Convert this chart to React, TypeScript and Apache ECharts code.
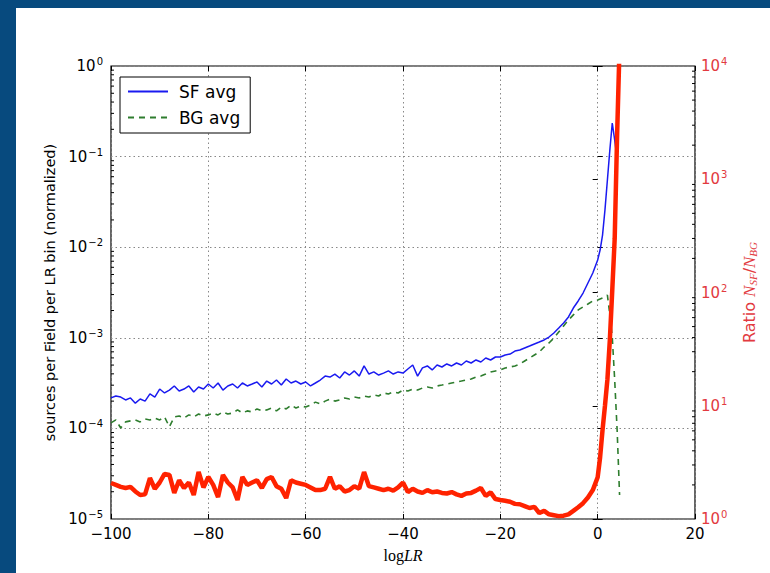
import React, { useEffect, useRef } from "react";
import * as echarts from "echarts";

// bin centres (log LR)
const logLR = [
  -100, -99, -98, -97, -96, -95, -94, -93, -92, -91,
  -90, -89, -88, -87, -86, -85, -84, -83, -82, -81,
  -80, -79, -78, -77, -76, -75, -74, -73, -72, -71,
  -70, -69, -68, -67, -66, -65, -64, -63, -62, -61,
  -60, -59, -58, -57, -56, -55, -54, -53, -52, -51,
  -50, -49, -48, -47, -46, -45, -44, -43, -42, -41,
  -40, -39, -38, -37, -36, -35, -34, -33, -32, -31,
  -30, -29, -28, -27, -26, -25, -24, -23, -22, -21,
  -20, -19, -18, -17, -16, -15, -14, -13, -12, -11,
  -10, -9, -8, -7, -6, -5, -4, -3, -2, -1,
  0, 0.5, 1, 1.5, 2, 2.5, 3, 3.5, 4, 4.5, 5,
];

const sfAvg = [
  2.17e-4, 2.28e-4, 2.22e-4, 2.06e-4, 2.17e-4, 1.9e-4, 2.11e-4, 2.0e-4, 2.4e-4, 2.22e-4,
  2.72e-4, 2.46e-4, 2.65e-4, 2.94e-4, 2.59e-4, 2.72e-4, 2.94e-4, 2.52e-4, 2.86e-4, 2.72e-4,
  3.09e-4, 2.79e-4, 3.17e-4, 2.65e-4, 2.94e-4, 3.09e-4, 2.79e-4, 3.17e-4, 2.94e-4, 3.09e-4,
  3.25e-4, 2.86e-4, 3.33e-4, 3.09e-4, 3.42e-4, 3.01e-4, 3.51e-4, 3.17e-4, 3.33e-4, 3.09e-4,
  3.25e-4, 2.94e-4, 3.17e-4, 3.42e-4, 3.78e-4, 3.69e-4, 3.98e-4, 3.6e-4, 4.2e-4, 3.88e-4,
  4.31e-4, 3.78e-4, 4.89e-4, 3.98e-4, 4.2e-4, 3.88e-4, 4.08e-4, 4.31e-4, 3.98e-4, 4.2e-4,
  4.08e-4, 4.53e-4, 5.01e-4, 3.78e-4, 4.65e-4, 4.89e-4, 4.42e-4, 5.01e-4, 4.76e-4, 5.14e-4,
  4.89e-4, 5.27e-4, 5.01e-4, 5.55e-4, 5.27e-4, 5.69e-4, 5.41e-4, 5.98e-4, 5.69e-4, 6.14e-4,
  6.14e-4, 6.46e-4, 6.62e-4, 7.14e-4, 7.33e-4, 7.71e-4, 8.11e-4, 8.55e-4, 8.99e-4, 9.46e-4,
  1.02e-3, 1.13e-3, 1.28e-3, 1.46e-3, 1.7e-3, 2.13e-3, 2.55e-3, 3.12e-3, 4.03e-3, 5.19e-3,
  7.22e-3, 9.31e-3, 1.36e-2, 2.58e-2, 5.52e-2, 1.18e-1, 2.35e-1, 1.52e-1, 9.17e-2, null, null,
];

const bgAvg = [
  1.15e-4, 1.24e-4, 1.01e-4, 1.18e-4, 1.21e-4, 1.24e-4, 1.18e-4, 1.27e-4, 1.24e-4, 1.3e-4,
  1.24e-4, 1.34e-4, 1.04e-4, 1.34e-4, 1.37e-4, 1.3e-4, 1.41e-4, 1.34e-4, 1.44e-4, 1.37e-4,
  1.41e-4, 1.48e-4, 1.41e-4, 1.52e-4, 1.44e-4, 1.48e-4, 1.6e-4, 1.48e-4, 1.56e-4, 1.52e-4,
  1.64e-4, 1.56e-4, 1.6e-4, 1.68e-4, 1.56e-4, 1.72e-4, 1.64e-4, 1.81e-4, 1.68e-4, 1.77e-4,
  1.72e-4, 1.81e-4, 1.95e-4, 1.86e-4, 2.0e-4, 2.11e-4, 2.0e-4, 2.06e-4, 2.17e-4, 2.11e-4,
  2.22e-4, 2.17e-4, 2.28e-4, 2.22e-4, 2.34e-4, 2.28e-4, 2.46e-4, 2.4e-4, 2.52e-4, 2.46e-4,
  2.65e-4, 2.59e-4, 2.72e-4, 2.65e-4, 2.79e-4, 2.86e-4, 2.79e-4, 2.94e-4, 3.01e-4, 3.09e-4,
  3.17e-4, 3.25e-4, 3.33e-4, 3.42e-4, 3.51e-4, 3.69e-4, 3.78e-4, 3.98e-4, 4.2e-4, 4.31e-4,
  4.42e-4, 4.65e-4, 4.76e-4, 4.89e-4, 5.14e-4, 5.55e-4, 5.98e-4, 6.46e-4, 6.97e-4, 7.91e-4,
  8.77e-4, 9.95e-4, 1.16e-3, 1.35e-3, 1.57e-3, 1.79e-3, 2.03e-3, 2.19e-3, 2.36e-3, 2.55e-3,
  2.61e-3, 2.68e-3, 2.75e-3, 2.85e-3, 2.96e-3, 1.8e-3, 1.02e-3, 3.42e-4, 9.6e-5, 1.84e-5, null,
];

const ratio = [
  2.08, 2.0, 1.92, 1.88, 1.92, 1.75, 1.63, 1.65, 2.3, 1.85,
  2.1, 2.5, 2.45, 1.7, 2.2, 1.88, 2.1, 1.63, 2.6, 1.9,
  2.35, 2.0, 1.56, 2.45, 2.1, 1.9, 1.47, 2.35, 2.0, 2.1,
  2.2, 1.88, 2.25, 2.35, 1.95, 1.85, 1.53, 2.2, 2.1, 2.05,
  2.0, 1.9, 1.8, 1.8, 1.85, 2.35, 1.85, 1.95, 1.75, 1.8,
  1.95, 1.85, 2.6, 1.95, 1.9, 1.85, 1.8, 1.85, 1.78, 1.9,
  2.1, 1.73, 1.85, 1.75, 1.7, 1.8, 1.72, 1.75, 1.7, 1.68,
  1.73, 1.65, 1.6, 1.68, 1.7, 1.78, 1.88, 1.6, 1.72, 1.5,
  1.47, 1.45, 1.42, 1.36, 1.35, 1.3, 1.25, 1.28, 1.13, 1.18,
  1.1, 1.08, 1.06, 1.07, 1.1, 1.18, 1.27, 1.38, 1.55, 1.8,
  2.34, 3.5, 6.1, 10, 17, 38, 105, 300, 2500, 15000, 30000,
];

const xTicks = [-100, -80, -60, -40, -20, 0, 20];
const minorMultipliers = [2, 3, 4, 5, 6, 7, 8, 9];
const leftDecades = [1e-5, 1e-4, 1e-3, 1e-2, 1e-1];
const rightDecades = [1, 10, 100, 1000];

const FONT = "DejaVu Sans";
const RED_TEXT = "#e23a40";

function pow10Label(v: number) {
  const e = Math.round(Math.log10(v));
  const s = e < 0 ? "\u2212" + -e : String(e);
  return "{b|10}{s|" + s + "}";
}

function fmtX(v: number) {
  return v < 0 ? "\u2212" + Math.abs(v) : String(v);
}

const richLabel = (color: string) => ({
  b: { fontFamily: FONT, fontSize: 15, color },
  s: { fontFamily: FONT, fontSize: 10, color, padding: [0, 0, 9, 1] },
});

export default function App() {
  const ref = useRef<HTMLDivElement>(null);

  useEffect(() => {
    if (!ref.current) return;
    const chart = echarts.init(ref.current, null, { renderer: "svg" });

    const pair = (arr: (number | null)[]) =>
      logLR.map((x, i) => [x, arr[i]]).filter((d) => d[1] !== null);

    const leftMinor: number[][] = [];
    leftDecades.forEach((d) => minorMultipliers.forEach((m) => leftMinor.push([-100, d * m])));
    const rightMinor: number[][] = [];
    rightDecades.forEach((d) => minorMultipliers.forEach((m) => rightMinor.push([20, d * m])));

    const minorTick = (dir: number) => (params: any, api: any) => {
      const p = api.coord([api.value(0), api.value(1)]);
      return {
        type: "line",
        shape: { x1: p[0], y1: p[1], x2: p[0] + dir * 3, y2: p[1] },
        style: { stroke: "#000", lineWidth: 1 },
      };
    };

    chart.setOption({
      animation: false,
      grid: {
        left: 111,
        top: 66,
        right: 75,
        bottom: 54,
        show: true,
        borderColor: "#000",
        borderWidth: 1.2,
        backgroundColor: "transparent",
      },
      legend: {
        data: ["SF avg", "BG avg"],
        orient: "vertical",
        left: 120,
        top: 77,
        itemWidth: 40,
        itemHeight: 14,
        itemGap: 9,
        padding: [6, 10, 7, 7],
        borderColor: "#000",
        borderWidth: 1,
        backgroundColor: "#fff",
        itemStyle: { opacity: 0 },
        textStyle: { fontFamily: FONT, fontSize: 17, color: "#000", padding: [0, 0, 0, 6] },
      },
      xAxis: [
        {
          type: "value",
          min: -100,
          max: 20,
          interval: 20,
          name: "{r|log}{i|LR}",
          nameLocation: "middle",
          nameGap: 28,
          nameTextStyle: {
            rich: {
              r: { fontFamily: "Liberation Serif", fontSize: 16, color: "#000" },
              i: { fontFamily: "Liberation Serif", fontStyle: "italic", fontSize: 16, color: "#000" },
            },
          },
          axisLine: { show: false },
          axisTick: { inside: true, length: 5, lineStyle: { color: "#000" } },
          axisLabel: {
            formatter: (v: number) => (xTicks.includes(v) ? fmtX(v) : ""),
            fontFamily: FONT,
            fontSize: 15,
            color: "#000",
            margin: 7,
          },
          splitLine: { show: true, lineStyle: { type: [1.5, 3], color: "#888", width: 1 } },
        },
        {
          type: "value",
          position: "top",
          min: -100,
          max: 20,
          interval: 20,
          axisLine: { show: false },
          axisTick: { inside: true, length: 5, lineStyle: { color: "#000" } },
          axisLabel: { show: false },
          splitLine: { show: false },
        },
      ],
      yAxis: [
        {
          type: "log",
          logBase: 10,
          min: 1e-5,
          max: 1,
          name: "sources per Field per LR bin (normalized)",
          nameLocation: "middle",
          nameGap: 54,
          nameRotate: 90,
          nameTextStyle: { fontFamily: FONT, fontSize: 14.5, color: "#000" },
          axisLine: { show: false },
          axisTick: { inside: true, length: 5, lineStyle: { color: "#000" } },
          axisLabel: {
            formatter: pow10Label,
            rich: richLabel("#000"),
            margin: 8,
          },
          splitLine: { show: true, lineStyle: { type: [1.5, 3], color: "#888", width: 1 } },
        },
        {
          type: "log",
          logBase: 10,
          min: 1,
          max: 10000,
          position: "right",
          name: "Ratio {i|N}{sub|SF}/{i|N}{sub|BG}",
          nameLocation: "middle",
          nameGap: 46,
          nameRotate: 90,
          nameTextStyle: {
            fontFamily: FONT,
            fontSize: 16,
            color: RED_TEXT,
            rich: {
              i: { fontFamily: "Liberation Serif", fontStyle: "italic", fontSize: 17, color: RED_TEXT },
              sub: { fontFamily: "Liberation Serif", fontStyle: "italic", fontSize: 11, color: RED_TEXT, padding: [6, 0, 0, 0] },
            },
          },
          axisLine: { show: false },
          axisTick: { inside: true, length: 5, lineStyle: { color: "#000" } },
          axisLabel: {
            formatter: pow10Label,
            rich: richLabel(RED_TEXT),
            margin: 6,
          },
          splitLine: { show: false },
        },
      ],
      series: [
        {
          name: "SF avg",
          type: "line",
          xAxisIndex: 0,
          yAxisIndex: 0,
          data: pair(sfAvg),
          showSymbol: false,
          symbol: "none",
          lineStyle: { color: "#1a1af0", width: 1.5 },
          itemStyle: { color: "#1a1af0" },
          z: 3,
        },
        {
          name: "BG avg",
          type: "line",
          xAxisIndex: 0,
          yAxisIndex: 0,
          data: pair(bgAvg),
          showSymbol: false,
          symbol: "none",
          lineStyle: { color: "#2e7d2e", width: 1.6, type: [6, 5] },
          itemStyle: { color: "#2e7d2e" },
          z: 3,
        },
        {
          name: "Ratio",
          type: "line",
          xAxisIndex: 0,
          yAxisIndex: 1,
          data: pair(ratio),
          showSymbol: false,
          symbol: "none",
          lineStyle: { color: "#ff2200", width: 4.5 },
          itemStyle: { color: "#ff2200" },
          z: 4,
        },
        {
          name: "leftMinor",
          type: "custom",
          xAxisIndex: 0,
          yAxisIndex: 0,
          data: leftMinor,
          encode: { x: 0, y: 1 },
          renderItem: minorTick(1),
          silent: true,
          clip: false,
        },
        {
          name: "rightMinor",
          type: "custom",
          xAxisIndex: 0,
          yAxisIndex: 1,
          data: rightMinor,
          encode: { x: 0, y: 1 },
          renderItem: minorTick(-1),
          silent: true,
          clip: false,
        },
      ],
    });

    return () => chart.dispose();
  }, []);

  return (
    <div style={{ position: "fixed", left: 0, top: 0, width: 770, height: 573, background: "#074a7e" }}>
      <div style={{ position: "absolute", left: 16, top: 8, right: 0, bottom: 0, background: "#fff" }} />
      <div ref={ref} style={{ position: "absolute", left: 0, top: 0, width: 770, height: 573 }} />
    </div>
  );
}
